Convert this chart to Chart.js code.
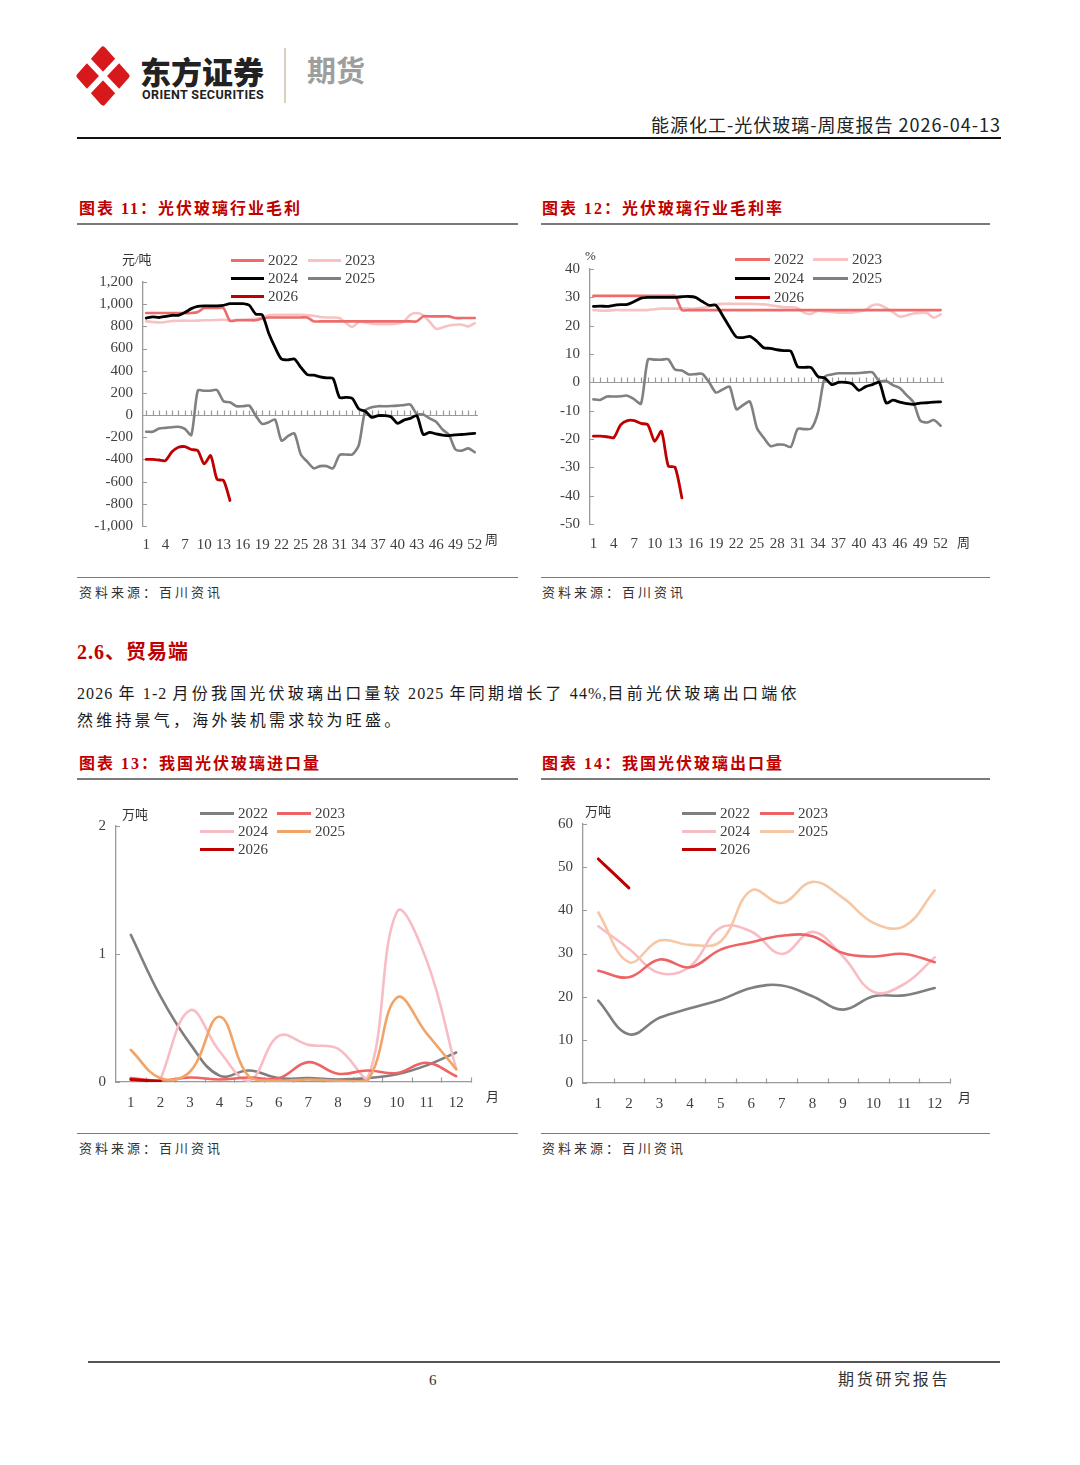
<!DOCTYPE html>
<html lang="zh-CN">
<head>
<meta charset="utf-8">
<title>能源化工-光伏玻璃-周度报告</title>
<script src="https://cdn.jsdelivr.net/npm/chart.js@4.4.1/dist/chart.umd.min.js"></script>
<style>
  html, body { margin: 0; padding: 0; background: #fff; }
  #page { position: relative; width: 1080px; height: 1465px; overflow: hidden;
          font-family: "Liberation Serif", "Noto Sans CJK SC", serif; color: #1a1a1a; }
  .abs { position: absolute; white-space: nowrap; line-height: 1; }
  .rule { position: absolute; }
  .box { position: absolute; }
  .ctitle { font-size: 16px; font-weight: 700; color: #C00000; letter-spacing: 2px; }
  .src { font-size: 13px; letter-spacing: 3px; color: #333; }
  .unit { font-size: 13px; color: #333; }
  .body { font-size: 16px; letter-spacing: 3.2px; color: #1a1a1a; }
  .body .n { letter-spacing: 1.1px; }
  .leg { font-size: 15px; color: #404040; }
</style>
</head>
<body>
<div id="page">
  <!-- header -->
  <svg class="box" style="left:76px;top:46px" width="54" height="60" viewBox="0 0 54 60">
    <polygon points="27,3 51,30 27,57 3,30" fill="#D7191C" stroke="#D7191C" stroke-width="5" stroke-linejoin="round"/>
    <line x1="11" y1="13" x2="43" y2="47" stroke="#fff" stroke-width="6"/>
    <line x1="43" y1="13" x2="11" y2="47" stroke="#fff" stroke-width="6"/>
  </svg>
  <div class="abs" style="left:140px;top:55px;font-family:'Noto Sans CJK SC';font-size:31px;font-weight:900;color:#222">东方证券</div>
  <div class="abs" style="left:142px;top:89px;font-family:Roboto;font-size:12.5px;font-weight:700;color:#222;letter-spacing:0.4px">ORIENT SECURITIES</div>
  <div class="rule" style="left:284px;top:48px;width:2px;height:55px;background:#D9CFBD"></div>
  <div class="abs" style="left:307px;top:55px;font-family:'Noto Sans CJK SC';font-size:29px;font-weight:700;color:#9E9E9E">期货</div>
  <div class="abs" style="right:79px;top:115px;font-family:'Noto Sans CJK SC';font-size:18px;letter-spacing:1px;color:#222">能源化工-光伏玻璃-周度报告 2026-04-13</div>
  <div class="rule" style="left:77px;top:137px;width:924px;height:2px;background:#111"></div>

  <!-- chart 11 / 12 frames -->
  <div class="abs ctitle" style="left:79px;top:201px">图表 11：光伏玻璃行业毛利</div>
  <div class="abs ctitle" style="left:542px;top:201px">图表 12：光伏玻璃行业毛利率</div>
  <div class="rule" style="left:77px;top:223px;width:441px;height:1.5px;background:#7a7a7a"></div>
  <div class="rule" style="left:541px;top:223px;width:449px;height:1.5px;background:#7a7a7a"></div>
  <div class="rule" style="left:77px;top:577px;width:441px;height:1px;background:#7a7a7a"></div>
  <div class="rule" style="left:541px;top:577px;width:449px;height:1px;background:#7a7a7a"></div>
  <div class="abs src" style="left:79px;top:586px">资料来源：百川资讯</div>
  <div class="abs src" style="left:542px;top:586px">资料来源：百川资讯</div>

  <div class="box" style="left:77px;top:240px;width:441px;height:320px"><canvas id="profitChart"></canvas></div>
  <div class="box" style="left:540px;top:240px;width:450px;height:320px"><canvas id="marginChart"></canvas></div>
  <div class="abs unit" style="left:122px;top:253px">元/吨</div>
  <div class="abs unit" style="left:585px;top:249px">%</div>
  <div class="abs unit" style="left:485px;top:533px">周</div>
  <div class="abs unit" style="left:957px;top:536px">周</div>

  <!-- section text -->
  <div class="abs" style="left:77px;top:642px;font-size:20px;font-weight:700;color:#C00000;letter-spacing:1px">2.6、贸易端</div>
  <div class="abs body" style="left:77px;top:686px"><span class="n">2026 </span>年<span class="n"> 1-2 </span>月份我国光伏玻璃出口量较<span class="n"> 2025 </span>年同期增长了<span class="n"> 44%,</span>目前光伏玻璃出口端依</div>
  <div class="abs body" style="left:77px;top:713px">然维持景气，海外装机需求较为旺盛。</div>

  <!-- chart 13 / 14 frames -->
  <div class="abs ctitle" style="left:79px;top:756px">图表 13：我国光伏玻璃进口量</div>
  <div class="abs ctitle" style="left:542px;top:756px">图表 14：我国光伏玻璃出口量</div>
  <div class="rule" style="left:77px;top:778px;width:441px;height:1.5px;background:#7a7a7a"></div>
  <div class="rule" style="left:541px;top:778px;width:449px;height:1.5px;background:#7a7a7a"></div>
  <div class="rule" style="left:77px;top:1133px;width:441px;height:1px;background:#7a7a7a"></div>
  <div class="rule" style="left:541px;top:1133px;width:449px;height:1px;background:#7a7a7a"></div>
  <div class="abs src" style="left:79px;top:1142px">资料来源：百川资讯</div>
  <div class="abs src" style="left:542px;top:1142px">资料来源：百川资讯</div>

  <div class="box" style="left:77px;top:795px;width:441px;height:320px"><canvas id="importChart"></canvas></div>
  <div class="box" style="left:540px;top:795px;width:450px;height:320px"><canvas id="exportChart"></canvas></div>
  <div class="abs unit" style="left:122px;top:808px">万吨</div>
  <div class="abs unit" style="left:585px;top:805px">万吨</div>
  <div class="abs unit" style="left:486px;top:1090px">月</div>
  <div class="abs unit" style="left:958px;top:1091px">月</div>

  <!-- footer -->
  <div class="rule" style="left:88px;top:1361px;width:912px;height:2px;background:#555"></div>
  <div class="abs" style="left:429px;top:1373px;font-size:15px;color:#333">6</div>
  <div class="abs" style="left:838px;top:1372px;font-size:16px;letter-spacing:2.7px;color:#333">期货研究报告</div>
</div>

<script>
// ---- data ----
const years = ['2022', '2023', '2024', '2025', '2026'];
const weekLabels = [1, 2, 3, 4, 5, 6, 7, 8, 9, 10, 11, 12, 13, 14, 15, 16, 17, 18, 19, 20, 21, 22, 23, 24, 25, 26,
    27, 28, 29, 30, 31, 32, 33, 34, 35, 36, 37, 38, 39, 40, 41, 42, 43, 44, 45, 46, 47, 48, 49, 50, 51, 52];
const monthLabels = ['1', '2', '3', '4', '5', '6', '7', '8', '9', '10', '11', '12'];

// 光伏玻璃行业毛利 (元/吨)
const profit2022 = [920, 920, 920, 920, 920, 920, 920, 920, 930, 965, 965, 965, 965, 850, 855, 855, 855, 855, 870,
    880, 880, 880, 880, 880, 880, 880, 845, 845, 845, 845, 845, 845, 845, 845, 845, 845, 845, 845, 845, 845, 845,
    845, 845, 890, 890, 890, 890, 890, 875, 875, 875, 875];
const profit2023 = [845, 840, 835, 840, 848, 850, 852, 850, 852, 855, 855, 858, 860, 855, 858, 860, 862, 868, 880,
    900, 905, 905, 905, 905, 905, 900, 895, 885, 880, 880, 875, 830, 795, 840, 835, 825, 820, 820, 820, 825, 845,
    905, 920, 900, 840, 778, 790, 808, 815, 815, 800, 830];
const profit2024 = [875, 885, 880, 890, 900, 900, 925, 960, 980, 985, 985, 985, 990, 1005, 1005, 1005, 990, 910,
    905, 740, 610, 505, 497, 505, 430, 365, 360, 345, 335, 330, 160, 160, 150, 55, 35, -20, -5, -5, -15, -75, -45,
    -30, -5, -175, -155, -170, -180, -185, -178, -175, -170, -165];
const profit2025 = [-150, -150, -120, -115, -110, -105, -125, -180, 220, 220, 220, 225, 125, 115, 80, 80, 85, -5,
    -80, -65, -40, -230, -190, -165, -355, -420, -480, -460, -460, -480, -360, -355, -355, -270, 40, 70, 80, 80, 82,
    85, 90, 95, 10, 5, -30, -60, -130, -180, -310, -320, -300, -335];
const profit2026 = [-400, -400, -405, -410, -330, -290, -285, -310, -320, -440, -365, -580, -590, -770];

// 光伏玻璃行业毛利率 (%)
const margin2022 = [30.5, 30.5, 30.5, 30.5, 30.5, 30.5, 30.5, 30.5, 30.5, 30.5, 30.5, 30.5, 30.5, 25.5, 25.5,
    25.5, 25.5, 25.5, 25.5, 25.5, 25.5, 25.5, 25.5, 25.5, 25.5, 25.5, 25.5, 25.5, 25.5, 25.5, 25.5, 25.5, 25.5,
    25.5, 25.5, 25.5, 25.5, 25.5, 25.5, 25.5, 25.5, 25.5, 25.5, 25.5, 25.5, 25.5, 25.5, 25.5, 25.5, 25.5, 25.5, 25.5];
const margin2023 = [25.5, 25.3, 25.3, 25.5, 25.5, 25.5, 25.5, 25.5, 25.5, 25.8, 26, 26, 26, 26, 26, 26, 26.3,
    26.8, 27.5, 27.7, 27.7, 27.7, 27.7, 27.7, 27.6, 27.5, 27.2, 26.8, 26.5, 26.5, 26.2, 24.5, 24.2, 25.3, 25, 24.8,
    24.6, 24.6, 24.6, 25, 25.6, 27.2, 27.4, 26.2, 24.8, 23.2, 23.6, 24.3, 24.5, 24.5, 22.8, 24];
const margin2024 = [26.8, 26.9, 26.8, 27.2, 27.4, 27.5, 28.5, 29.7, 30, 30, 30, 30, 30, 30.2, 30.3, 30, 28.5, 27.2,
    27.2, 23.5, 19.5, 16, 15.8, 16.2, 14.5, 12.2, 12, 11.5, 11.2, 11, 5.5, 5.3, 5.2, 2, 1.5, -0.8, 0, 0, -0.5, -2.8,
    -1.5, -0.8, 0, -7.3, -6.3, -7, -7.5, -7.8, -7.3, -7.2, -7, -6.9];
const margin2025 = [-6, -6.2, -5, -5, -4.9, -4.7, -6, -7.5, 8, 8, 8, 8.1, 4.5, 4.2, 2.8, 2.9, 3, 0, -3.6, -2.5,
    -1.5, -9.5, -8, -6.8, -16, -19.5, -22.5, -22, -22, -22.8, -16.5, -16.5, -16.3, -10.5, 2, 2.8, 3.2, 3.2, 3.2,
    3.3, 3.5, 3.5, 0.5, 0.5, -1, -2, -4.5, -7, -13.5, -14.2, -13.3, -15.3];
const margin2026 = [-19, -19, -19.2, -19.5, -15, -13.5, -13.5, -14.5, -15, -20.8, -17.3, -29.5, -30, -40.8];

// 进口量 (万吨)
const import2022 = [1.15, 0.67, 0.3, 0.05, 0.09, 0.03, 0.03, 0.02, 0.03, 0.06, 0.13, 0.23];
const import2023 = [0.03, 0.01, 0.035, 0.02, 0.035, 0.03, 0.155, 0.065, 0.09, 0.07, 0.15, 0.045];
const import2024 = [null, 0.02, 0.56, 0.24, 0.01, 0.36, 0.29, 0.26, 0.03, 1.33, 0.95, 0.1];
const import2025 = [0.25, 0.03, 0.08, 0.51, 0.04, 0.01, 0.02, 0.01, 0.01, 0.66, 0.38, 0.1];
const import2026 = [0.02, 0.005];

// 出口量 (万吨)
const export2022 = [19.1, 11.3, 15.1, 17.3, 19.3, 22, 22.6, 20.1, 17, 20.1, 20.3, 22];
const export2023 = [26, 24.5, 28.6, 26.8, 30.9, 32.6, 34.1, 34, 30.1, 29.3, 29.9, 28];
const export2024 = [36.3, 31.1, 25.5, 27, 36, 35.1, 29.9, 35, 29.3, 21.1, 22.9, 29.1];
const export2025 = [39.5, 28, 33, 32, 32.8, 44.6, 41.7, 46.6, 42.9, 37.1, 36.3, 44.6];
const export2026 = [51.9, 45.2];

// ---- styling ----
const axisGray = '#9a9a9a';
const tickColor = '#404040';
const tickFont = { family: '"Liberation Serif", serif', size: 15 };
const profitColors = ['#EE6B6B', '#F7C2C2', '#000000', '#808080', '#C00000'];
const importColors = ['#7F7F7F', '#EE6464', '#F8BDC4', '#F0A468', '#C00000'];
const exportColors = ['#7F7F7F', '#EE6464', '#F8BDC4', '#F6C7A4', '#C00000'];

// small tick marks drawn inside the plot, plus the zero line for the weekly charts
const innerTicks = {
    id: 'innerTicks',
    beforeDatasetsDraw(chart, args, opts) {
        const { ctx, chartArea: area, scales: { x, y } } = chart;
        const base = Math.round(y.getPixelForValue(opts.base)) + 0.5;
        const step = x.getPixelForValue(1) - x.getPixelForValue(0);
        ctx.save();
        ctx.strokeStyle = axisGray;
        ctx.lineWidth = 1.2;
        ctx.beginPath();
        if (opts.baseLine) {
            ctx.moveTo(area.left, base);
            ctx.lineTo(area.right, base);
        }
        x.getLabels().forEach((lab, i) => {
            const px = Math.round(x.getPixelForValue(i) + (opts.between ? step / 2 : 0)) + 0.5;
            ctx.moveTo(px, base);
            ctx.lineTo(px, base - opts.xLen);
        });
        y.ticks.forEach(t => {
            const py = Math.round(y.getPixelForValue(t.value)) + 0.5;
            ctx.moveTo(area.left, py);
            ctx.lineTo(area.left + opts.yLen, py);
        });
        ctx.stroke();
        ctx.restore();
    }
};

function series(values, colors, widths, orders) {
    return values.map((v, i) => ({
        label: years[i],
        data: v,
        borderColor: colors[i],
        backgroundColor: colors[i],
        borderWidth: widths[i],
        order: orders[i],
        pointRadius: 0,
        fill: false
    }));
}

function makeChart(id, labels, datasets, c) {
    return new Chart(document.getElementById(id), {
        type: 'line',
        data: { labels: labels, datasets: datasets },
        options: {
            responsive: true,
            maintainAspectRatio: false,
            animation: false,
            locale: 'en-US',
            layout: { padding: { top: c.padTop, right: c.padRight, bottom: 0, left: 0 } },
            elements: { line: { tension: c.tension, borderCapStyle: 'round', borderJoinStyle: 'round' } },
            plugins: {
                legend: { display: false },
                tooltip: { enabled: false },
                innerTicks: c.ticks
            },
            scales: {
                x: {
                    offset: true,
                    grid: { display: false, drawTicks: false },
                    border: { display: c.xBorder, color: axisGray, width: 1.3 },
                    ticks: {
                        autoSkip: false, maxRotation: 0, padding: c.xPad, color: tickColor, font: tickFont,
                        callback: function (v, i) { return i % c.every === 0 ? this.getLabelForValue(v) : ''; }
                    },
                    afterFit: s => { s.height = c.xHeight; }
                },
                y: {
                    min: c.min, max: c.max,
                    grid: { display: false, drawTicks: false },
                    border: { display: true, color: axisGray, width: 1.3 },
                    ticks: { stepSize: c.step, padding: 10, color: tickColor, font: tickFont },
                    afterFit: s => { s.width = c.yWidth; }
                }
            }
        },
        plugins: [innerTicks]
    });
}

function addLegend(colors, cols, rows, len) {
    const page = document.getElementById('page');
    years.forEach((yr, k) => {
        const r = Math.floor(k / 2), col = k % 2;
        const ln = document.createElement('div');
        ln.className = 'rule';
        ln.style.cssText = `left:${cols[col]}px;top:${rows[r] - 1.5}px;width:${len}px;height:3px;background:${colors[k]}`;
        const tx = document.createElement('div');
        tx.className = 'abs leg';
        tx.style.cssText = `left:${cols[col] + len + 4}px;top:${rows[r] - 7.5}px`;
        tx.textContent = yr;
        page.appendChild(ln);
        page.appendChild(tx);
    });
}

const weeklyWidths = [2.6, 2.6, 2.8, 2.6, 2.8];
const weeklyOrder = [3, 4, 1, 2, 0];
const monthlyWidths = [2.6, 2.6, 2.6, 2.6, 3];
const monthlyOrder = [4, 2, 3, 1, 0];

makeChart('profitChart', weekLabels,
    series([profit2022, profit2023, profit2024, profit2025, profit2026], profitColors, weeklyWidths, weeklyOrder),
    { padTop: 42, padRight: 40, yWidth: 66, xHeight: 34, xPad: 10, every: 3, tension: 0.25, xBorder: false,
      min: -1000, max: 1200, step: 200,
      ticks: { base: 0, baseLine: true, between: false, xLen: 5, yLen: 4 } });

makeChart('marginChart', weekLabels,
    series([margin2022, margin2023, margin2024, margin2025, margin2026], profitColors, weeklyWidths, weeklyOrder),
    { padTop: 29, padRight: 46, yWidth: 50, xHeight: 36, xPad: 11, every: 3, tension: 0.25, xBorder: false,
      min: -50, max: 40, step: 10,
      ticks: { base: 0, baseLine: true, between: false, xLen: 5, yLen: 4 } });

makeChart('importChart', monthLabels,
    series([import2022, import2023, import2024, import2025, import2026], importColors, monthlyWidths, monthlyOrder),
    { padTop: 31, padRight: 47, yWidth: 39, xHeight: 33, xPad: 12, every: 1, tension: 0.4, xBorder: true,
      min: 0, max: 2, step: 1,
      ticks: { base: 0, baseLine: false, between: true, xLen: 5, yLen: 4 } });

makeChart('exportChart', monthLabels,
    series([export2022, export2023, export2024, export2025, export2026], exportColors, monthlyWidths, monthlyOrder),
    { padTop: 29, padRight: 40, yWidth: 43, xHeight: 32, xPad: 12, every: 1, tension: 0.4, xBorder: true,
      min: 0, max: 60, step: 10,
      ticks: { base: 0, baseLine: false, between: true, xLen: 5, yLen: 4 } });

addLegend(profitColors, [231, 308], [260, 278, 296], 33);
addLegend(profitColors, [735, 813], [259, 278, 297], 35);
addLegend(importColors, [200, 277], [813, 831, 849], 34);
addLegend(exportColors, [682, 760], [813, 831, 849], 34);
</script>
</body>
</html>
